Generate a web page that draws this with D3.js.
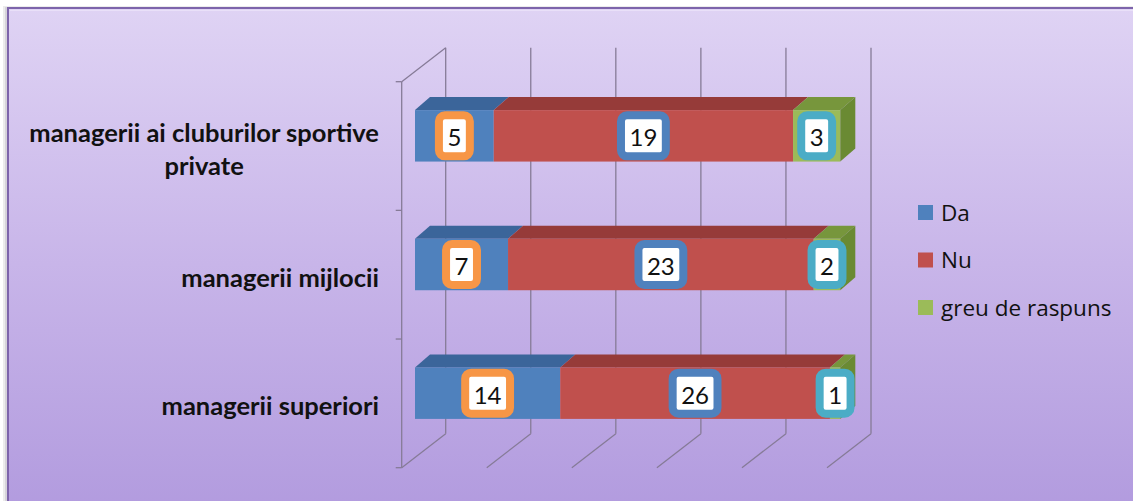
<!DOCTYPE html>
<html>
<head>
<meta charset="utf-8">
<script src="https://cdn.jsdelivr.net/npm/d3@7"></script>
<style>
  html, body { margin: 0; padding: 0; background: #ffffff; }
  svg { display: block; }
</style>
</head>
<body>
<svg id="chart" width="1133" height="501"></svg>
<script>
// ---- data ----
const categories = ["managerii ai cluburilor sportive private", "managerii mijlocii", "managerii superiori"];
const seriesNames = ["Da", "Nu", "greu de raspuns"];
const valuesDa = [5, 7, 14];
const valuesNu = [19, 23, 26];
const valuesGreu = [3, 2, 1];
const xTickValues = [0, 0.2, 0.4, 0.6, 0.8, 1.0];

// ---- styles ----
const frontColors = ["#4F81BD", "#C0504D", "#9BBB59"];
const topColors = ["#3B659A", "#963B39", "#77963C"];
const sideColors = ["#3A6394", "#8E3A38", "#6A8A33"];
const labelBorder = ["#F79646", "#4F81BD", "#4BACC6"];
const gridColor = "#867b97";

const svg = d3.select("#chart");
const W = 1133, H = 501;

// background gradient
const defs = svg.append("defs");
const lg = defs.append("linearGradient").attr("id", "bg").attr("x1", 0).attr("y1", 0).attr("x2", 0).attr("y2", 1);
lg.append("stop").attr("offset", "0%").attr("stop-color", "#DFD3F4");
lg.append("stop").attr("offset", "50%").attr("stop-color", "#C8B5E9");
lg.append("stop").attr("offset", "100%").attr("stop-color", "#B19ADE");

// shadow of frame
svg.append("rect").attr("x", 3).attr("y", 6).attr("width", W).attr("height", H).attr("fill", "#ececec");
svg.append("rect").attr("x", 5).attr("y", 7).attr("width", W).attr("height", H).attr("fill", "#d6d3da");
svg.append("rect").attr("x", 8).attr("y", 8).attr("width", W + 10).attr("height", H + 10)
  .attr("fill", "url(#bg)").attr("stroke", "#7D64AB").attr("stroke-width", 2);
svg.append("line").attr("x1", 10).attr("x2", W).attr("y1", 10.5).attr("y2", 10.5).attr("stroke", "#E9E0F8").attr("stroke-width", 1.2);

// ---- geometry ----
const frontX0 = 401.7, frontX1 = 827;
const frontTop = 81.7, frontBottom = 467.7;
const depthDX = 44, depthDY = -34;       // full depth of the walls
const barOffDX = 13.3, barOffDY = -10.2; // where the bars' front face sits
const barDX = 15, barDY = -13;           // bar depth

const x = d3.scaleLinear().domain([0, 1]).range([frontX0, frontX1]);
const y = d3.scaleBand().domain(categories).range([frontTop, frontBottom]).paddingInner(0.6).paddingOuter(0.3);
const yb = d3.scaleBand().domain(categories).range([frontTop, frontBottom]);

const g = svg.append("g");

// back-wall vertical gridlines
g.selectAll("line.grid").data(xTickValues).join("line")
  .attr("x1", d => x(d) + depthDX).attr("x2", d => x(d) + depthDX)
  .attr("y1", frontTop + depthDY).attr("y2", frontBottom + depthDY)
  .attr("stroke", gridColor).attr("stroke-width", 1.3);
// floor diagonals
g.selectAll("line.floor").data(xTickValues).join("line")
  .attr("x1", d => x(d)).attr("y1", frontBottom)
  .attr("x2", d => x(d) + depthDX).attr("y2", frontBottom + depthDY)
  .attr("stroke", gridColor).attr("stroke-width", 1.3);
// left wall: front edge + top diagonal
g.append("line").attr("x1", frontX0).attr("x2", frontX0).attr("y1", frontTop).attr("y2", frontBottom)
  .attr("stroke", gridColor).attr("stroke-width", 1.3);
g.append("line").attr("x1", frontX0).attr("y1", frontTop).attr("x2", frontX0 + depthDX).attr("y2", frontTop + depthDY)
  .attr("stroke", gridColor).attr("stroke-width", 1.3);
// category boundary ticks
const bounds = categories.map(c => yb(c)).concat([frontBottom]);
g.selectAll("line.tick").data(bounds).join("line")
  .attr("x1", frontX0 - 6).attr("x2", frontX0).attr("y1", d => d).attr("y2", d => d)
  .attr("stroke", gridColor).attr("stroke-width", 1.3);

// ---- stacked (100%) data ----
const rows = categories.map((c, i) => ({ cat: c, vals: [valuesDa[i], valuesNu[i], valuesGreu[i]] }));
const stack = d3.stack().keys([0, 1, 2]).value((d, k) => d.vals[k]).offset(d3.stackOffsetExpand);
const stacked = stack(rows);

const bars = g.append("g");
rows.forEach((row, ri) => {
  const y0 = y(row.cat) + barOffDY;
  const h = y.bandwidth();
  const bg = bars.append("g");
  stacked.forEach((layer, si) => {
    const seg = layer[ri];
    const xa = x(seg[0]) + barOffDX, xb = x(seg[1]) + barOffDX;
    bg.append("polygon")
      .attr("points", [[xa, y0], [xb, y0], [xb + barDX, y0 + barDY], [xa + barDX, y0 + barDY]].map(p => p.join(",")).join(" "))
      .attr("fill", topColors[si]);
    bg.append("rect").attr("x", xa).attr("y", y0).attr("width", xb - xa).attr("height", h)
      .attr("fill", frontColors[si]);
    if (si === stacked.length - 1) {
      bg.append("polygon")
        .attr("points", [[xb, y0], [xb + barDX, y0 + barDY], [xb + barDX, y0 + h + barDY], [xb, y0 + h]].map(p => p.join(",")).join(" "))
        .attr("fill", sideColors[si]);
    }
  });
});

// ---- data labels ----
const labels = g.append("g");
rows.forEach((row, ri) => {
  const cy = y(row.cat) + barOffDY + y.bandwidth() / 2;
  stacked.forEach((layer, si) => {
    const seg = layer[ri];
    const cx = (x(seg[0]) + x(seg[1])) / 2 + barOffDX;
    const lab = labels.append("g");
    const rect = lab.append("rect");
    const t = lab.append("text").attr("x", cx).attr("y", cy + 1).attr("text-anchor", "middle")
      .attr("dominant-baseline", "central")
      .style("font-family", "Lato, 'Open Sans', sans-serif").style("font-size", "24px").style("fill", "#111")
      .text(row.vals[si]);
    const tw = t.node().getComputedTextLength();
    const iw = tw + 9, ih = 33;
    rect.attr("x", cx - iw / 2 - 4).attr("y", cy - ih / 2 - 4).attr("width", iw + 8).attr("height", ih + 8)
      .attr("rx", 6).attr("fill", "#ffffff").attr("stroke", labelBorder[si]).attr("stroke-width", 8);
  });
});

// ---- category labels ----
const catG = svg.append("g");
const labelRight = 379, maxW = 360;
categories.forEach(c => {
  const cy = yb(c) + yb.bandwidth() / 2 + 2;
  const t = catG.append("text")
    .style("font-family", "Lato, 'Open Sans', sans-serif").style("font-weight", "bold").style("font-size", "25.5px")
    .style("fill", "#111");
  const words = c.split(" ");
  let lines = [], cur = "";
  const probe = t.append("tspan");
  words.forEach(w => {
    const test = cur ? cur + " " + w : w;
    probe.text(test);
    if (probe.node().getComputedTextLength() > maxW && cur) { lines.push(cur); cur = w; }
    else cur = test;
  });
  lines.push(cur);
  probe.remove();
  const lh = 33;
  if (lines.length === 1) {
    t.append("tspan").attr("x", labelRight).attr("y", cy).attr("text-anchor", "end")
      .attr("dominant-baseline", "central").text(lines[0]);
  } else {
    t.attr("text-anchor", "middle");
    let widest = 0;
    lines.forEach((ln, i) => {
      const ts = t.append("tspan").attr("y", cy + (i - (lines.length - 1) / 2) * lh)
        .attr("dominant-baseline", "central").text(ln);
      widest = Math.max(widest, ts.node().getComputedTextLength());
    });
    t.selectAll("tspan").attr("x", labelRight - widest / 2);
  }
});

// ---- legend ----
const leg = svg.append("g");
const legY = d3.scalePoint().domain(seriesNames).range([212, 307]);
seriesNames.forEach((s, i) => {
  leg.append("rect").attr("x", 918).attr("y", legY(s) - 7).attr("width", 15).attr("height", 15).attr("fill", frontColors[i]);
  leg.append("text").attr("x", 941).attr("y", legY(s)).attr("dominant-baseline", "central")
    .style("font-family", "'Open Sans', Lato, sans-serif").style("font-size", "22.5px").style("fill", "#111")
    .text(s);
});
</script>
</body>
</html>
